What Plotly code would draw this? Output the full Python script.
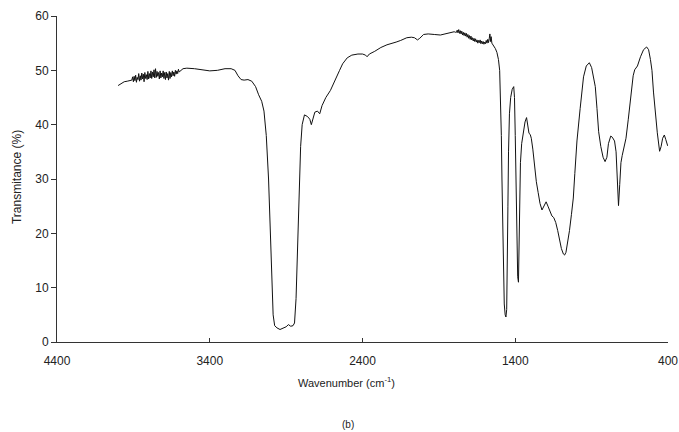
import plotly.graph_objects as go

# IR spectrum (wavenumber cm-1, transmittance %)
wavenumber = [
    4000, 3980, 3960, 3940, 3920,
    3910, 3905, 3900, 3895, 3890, 3885, 3880, 3875, 3870, 3865, 3860, 3855, 3850, 3845, 3840,
    3835, 3830, 3825, 3820, 3815, 3810, 3805, 3800, 3795, 3790, 3785, 3780, 3775, 3770, 3765,
    3760, 3755, 3750, 3745, 3740, 3735, 3730, 3725, 3720, 3715, 3710, 3705, 3700, 3695, 3690,
    3685, 3680, 3675, 3670, 3665, 3660, 3655, 3650, 3645, 3640, 3635, 3630, 3625, 3620, 3615,
    3610, 3605, 3600,
    3575, 3550, 3500, 3450, 3400, 3350, 3300, 3260, 3235, 3215, 3195, 3175, 3150, 3125,
    3100, 3080, 3060, 3045, 3030, 3015, 3005, 2995, 2985, 2975, 2960, 2940, 2920, 2900,
    2885, 2870, 2855, 2845, 2835, 2825, 2815, 2805, 2795, 2780, 2760, 2745, 2735, 2725,
    2712, 2695, 2680, 2665, 2640, 2610, 2580, 2550, 2530, 2500, 2470, 2430, 2400, 2380,
    2370, 2355, 2320, 2280, 2240, 2210, 2180, 2150, 2110, 2080, 2060, 2040, 2025, 2000,
    1970, 1930, 1890, 1860, 1830, 1800, 1790,
    1785, 1780, 1775, 1770, 1765, 1760, 1755, 1750, 1745, 1740, 1735, 1730, 1725, 1720,
    1715, 1710, 1705, 1700, 1695, 1690, 1685, 1680, 1675, 1670, 1665, 1660, 1655, 1650,
    1645, 1640, 1635, 1630, 1625, 1620, 1615, 1610, 1605, 1600, 1595, 1590, 1585, 1580,
    1575, 1570, 1566, 1562, 1558, 1553, 1548,
    1540, 1530, 1520, 1510, 1502, 1496, 1491, 1487, 1482, 1477, 1472,
    1466, 1461, 1456, 1452, 1448, 1444, 1438, 1430, 1420, 1410, 1405, 1400, 1395, 1390,
    1384, 1379, 1375, 1371, 1366, 1358, 1348, 1336, 1326, 1318, 1310, 1302, 1295, 1285,
    1275, 1262, 1250, 1238, 1225, 1212, 1198, 1186, 1172, 1160, 1148, 1135, 1122, 1110,
    1098, 1085, 1077, 1068, 1058, 1045, 1032, 1020, 1010, 996, 975, 953, 935, 915,
    900, 888, 876, 865, 854, 840, 825, 812, 800, 790, 775, 765, 750, 740, 732, 724,
    716, 708, 700, 690, 675, 660, 645, 628, 618, 600, 580, 560, 540, 527, 515, 505,
    495, 485, 470, 455, 445, 435, 424, 415, 402,
]
transmittance = [
    47.2, 47.6, 47.9, 48.0, 48.1,
    48.2, 48.8, 47.9, 48.9, 48.1, 49.1, 47.8, 48.7, 48.3, 49.4, 48.0, 49.0, 48.2, 49.5, 48.4,
    49.3, 47.9, 49.6, 48.5, 49.2, 48.3, 49.8, 48.4, 49.4, 48.6, 49.9, 48.5, 49.7, 48.8, 50.1,
    48.6, 50.3, 48.7, 49.8, 48.9, 49.6, 48.4, 49.9, 48.6, 49.5, 48.8, 49.9, 48.5, 49.6, 48.3,
    49.7, 48.6, 49.4, 48.2, 49.8, 48.5, 49.6, 48.8, 49.9, 49.0, 49.7, 48.9, 50.0, 49.3, 49.9,
    49.4, 50.2, 49.7,
    50.3, 50.4, 50.3, 50.1, 49.9, 50.0, 50.3, 50.3, 50.0, 49.0, 48.3, 48.2, 48.3, 48.0,
    47.0, 45.5, 44.3, 42.5, 38.0, 30.0, 22.0, 12.0, 5.0, 3.0, 2.6, 2.3, 2.5, 2.8,
    3.2, 2.9, 3.0, 3.5, 8.0, 18.0, 28.0, 36.0, 40.0, 41.8, 41.5, 41.0, 40.0, 41.0,
    42.3, 42.5, 42.0, 43.5, 45.0, 46.3, 48.0, 50.0, 51.2, 52.3, 52.8, 53.0, 53.0, 52.8,
    52.5, 53.0, 53.5, 54.2, 54.7, 54.9, 55.2, 55.5, 56.0, 56.1, 56.0, 55.6, 55.9, 56.6,
    56.7, 56.6, 56.5, 56.7, 56.9, 57.1, 57.0,
    57.0, 57.4, 56.9, 57.5, 56.8, 57.3, 56.7, 57.2, 56.5, 57.0, 56.4, 56.9, 56.3, 56.8,
    56.1, 56.6, 55.9, 56.4, 55.7, 56.3, 55.6, 56.0, 55.4, 55.9, 55.3, 55.8, 55.2, 55.6,
    55.0, 55.5, 55.1, 55.6, 54.9, 55.4, 54.9, 55.3, 54.8, 55.2, 54.9, 55.5, 55.0, 55.7,
    55.1, 55.9, 56.7, 55.3, 56.2, 55.0, 54.8,
    54.6, 54.0, 53.3, 52.0, 50.0, 45.0, 38.0, 30.0, 20.0, 12.0, 7.0,
    5.0, 4.6, 6.0, 12.0, 25.0, 35.0, 42.0, 45.0, 46.5, 47.0, 45.0, 38.0, 28.0, 18.0,
    12.0, 11.0, 16.0, 26.0, 33.0, 36.5, 38.5, 40.5, 41.3, 39.8, 38.4, 38.2, 37.5, 35.5,
    32.5, 29.5, 27.5, 25.5, 24.3, 25.0, 25.8, 25.0, 23.8, 23.2, 22.9, 22.0, 20.5, 18.8,
    17.2, 16.2, 16.0, 16.5, 18.0, 20.5, 23.5, 26.5, 31.0, 37.0, 43.0, 48.8, 50.8, 51.4,
    50.5, 48.8, 47.0, 43.0, 38.7, 36.0, 34.0, 33.2, 34.0, 36.5, 37.9, 37.7, 37.0, 35.0, 30.0, 25.1,
    29.0, 33.0, 34.3, 35.5, 37.5, 41.0, 45.0, 49.0, 50.1, 50.8, 52.5, 53.8, 54.3, 53.8, 52.0, 50.0,
    46.0, 42.5, 38.5, 35.1, 36.0, 37.5, 38.1, 37.3, 36.1,
]

x_ticks = [4400, 3400, 2400, 1400, 400]
y_ticks = [0, 10, 20, 30, 40, 50, 60]

font_family = "Liberation Sans, Arial, sans-serif"
text_color = "#222222"
axis_color = "#333333"

fig = go.Figure()
fig.add_trace(go.Scatter(
    x=wavenumber, y=transmittance, mode="lines",
    line=dict(color="#111111", width=1),
    hoverinfo="skip", showlegend=False,
))

fig.update_layout(
    width=679, height=432,
    margin=dict(l=57, r=11, t=16, b=90, autoexpand=False),
    paper_bgcolor="white", plot_bgcolor="white",
    font=dict(family=font_family, size=11, color=text_color),
    xaxis=dict(
        range=[4400, 400], tickvals=x_ticks, ticktext=[str(v) for v in x_ticks],
        showgrid=False, zeroline=False, showline=True, linecolor=axis_color, linewidth=1,
        ticks="inside", ticklen=4, tickcolor=axis_color, ticklabelstandoff=8,
        tickfont=dict(size=12), automargin=False,
    ),
    yaxis=dict(
        range=[0, 60], tickvals=y_ticks,
        showgrid=False, zeroline=False, showline=True, linecolor=axis_color, linewidth=1,
        ticks="outside", ticklen=5, tickcolor=axis_color,
        tickfont=dict(size=12), automargin=False,
    ),
    annotations=[
        dict(text="Wavenumber (cm<sup>-1</sup>)", x=0.4746, y=-0.1227, xref="paper", yref="paper",
             showarrow=False, font=dict(size=11, color=text_color), xanchor="center", yanchor="middle"),
        dict(text="Transmitance (%)", x=-0.0655, y=0.506, xref="paper", yref="paper", textangle=-90,
             showarrow=False, font=dict(size=12, color=text_color), xanchor="center", yanchor="middle"),
        dict(text="(b)", x=0.476, y=-0.2546, xref="paper", yref="paper",
             showarrow=False, font=dict(size=10, color=text_color), xanchor="center", yanchor="middle"),
    ],
)

fig.write_html(
    "out.html",
    config={"displayModeBar": False},
    post_script="document.body.style.margin='0';document.body.style.overflow='hidden';",
)
